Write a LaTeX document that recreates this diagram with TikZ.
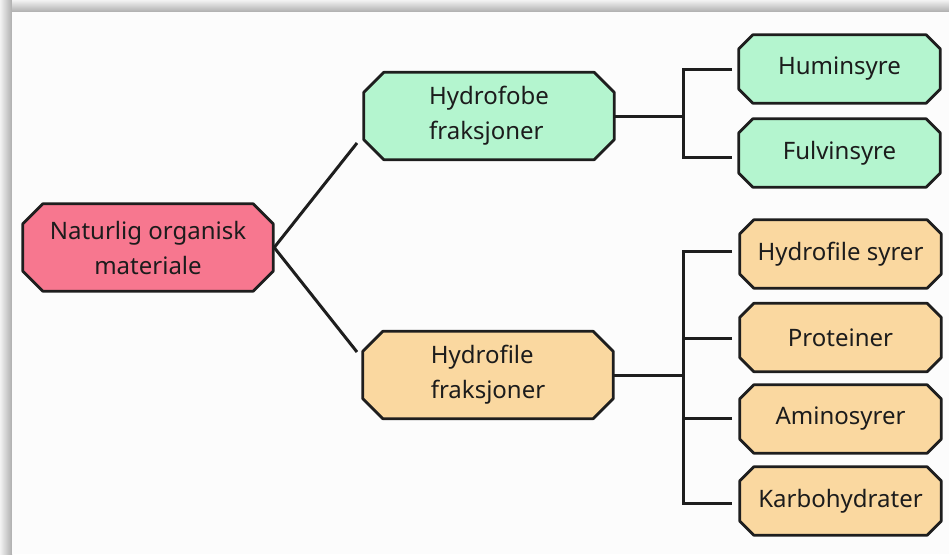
\documentclass[tikz,border=0pt]{standalone}
\usepackage{fontspec}
\setmainfont{Noto Sans}
\usetikzlibrary{backgrounds}
\definecolor{rootfill}{HTML}{F7778F}
\definecolor{greenfill}{HTML}{B4F5CF}
\definecolor{orangefill}{HTML}{FAD8A0}
\definecolor{edgecol}{HTML}{1E1E1E}
\definecolor{txtcol}{HTML}{1C1C1C}
\newcommand{\octbox}[3]{%
  \fill[#3] ([xshift=#2]#1.north west) -- ([xshift=-#2]#1.north east) -- ([yshift=-#2]#1.north east)
    -- ([yshift=#2]#1.south east) -- ([xshift=-#2]#1.south east) -- ([xshift=#2]#1.south west)
    -- ([yshift=#2]#1.south west) -- ([yshift=-#2]#1.north west) -- cycle;
  \draw[outline] ([xshift=#2]#1.north west) -- ([xshift=-#2]#1.north east) -- ([yshift=-#2]#1.north east)
    -- ([yshift=#2]#1.south east) -- ([xshift=-#2]#1.south east) -- ([xshift=#2]#1.south west)
    -- ([yshift=#2]#1.south west) -- ([yshift=-#2]#1.north west) -- cycle;}
\begin{document}
\begin{tikzpicture}[x=1pt,y=-1pt,
  box/.style={inner sep=0pt, text=txtcol, font=\fontsize{24}{35}\selectfont},
  bigbox/.style={box, minimum width=250pt, minimum height=87pt},
  leafbox/.style={box, minimum width=201pt, minimum height=68pt},
  outline/.style={draw=edgecol, line width=2.8pt, line join=round},
  conn/.style={draw=edgecol, line width=3pt}]
\useasboundingbox (0,0) rectangle (949,554);

\node[bigbox, align=center] (root) at (148,247.5) {Naturlig organisk\\materiale};
\node[bigbox, align=left] (fobe) at (489,116) {Hydrofobe\\fraksjoner};
\node[bigbox, align=left] (file) at (488,375) {Hydrofile\\fraksjoner};

\node[leafbox] (hum) at (839.5,69) {Huminsyre};
\node[leafbox] (ful) at (839.5,153) {Fulvinsyre};
\node[leafbox] (hs) at (840.5,254) {Hydrofile syrer};
\node[leafbox] (pro) at (840.5,337.5) {Proteiner};
\node[leafbox] (ami) at (840.5,419) {Aminosyrer};
\node[leafbox] (kar) at (840.5,501) {Karbohydrater};

\begin{pgfonlayer}{background}
\fill[white] (0,0) rectangle (949,554);
\shade[left color=white!95!black, right color=black!32] (0,0) rectangle (12,554);
\shade[top color=white!95!black, bottom color=black!32] (12,0) rectangle (949,12);
\fill[white!99!black] (12,12) rectangle (949,554);
\octbox{root}{20pt}{rootfill}
\octbox{fobe}{20pt}{greenfill}
\octbox{file}{20pt}{orangefill}
\octbox{hum}{14pt}{greenfill}
\octbox{ful}{14pt}{greenfill}
\octbox{hs}{14pt}{orangefill}
\octbox{pro}{14pt}{orangefill}
\octbox{ami}{14pt}{orangefill}
\octbox{kar}{14pt}{orangefill}
\end{pgfonlayer}

\coordinate (ra) at (357,143);
\coordinate (rb) at (357,352);
\draw[conn, line join=miter] (ra) -- ([xshift=1pt]root.east) -- (rb);

\coordinate (fobeJ) at (683,116);
\coordinate (hum0) at (732,69);
\coordinate (ful0) at (732,157);
\draw[conn] (fobe.east) -- (fobeJ);
\draw[conn] (hum0) -| (fobeJ) |- (ful0);

\coordinate (fileJ) at (683,375);
\coordinate (hs0) at (732,251);
\coordinate (pro0) at (732,338);
\coordinate (ami0) at (732,418);
\coordinate (kar0) at (732,503);
\draw[conn] (file.east) -- (fileJ);
\draw[conn] (hs0) -| (fileJ) |- (kar0);
\draw[conn] (pro0) -- (683,338);
\draw[conn] (ami0) -- (683,418);
\end{tikzpicture}
\end{document}
